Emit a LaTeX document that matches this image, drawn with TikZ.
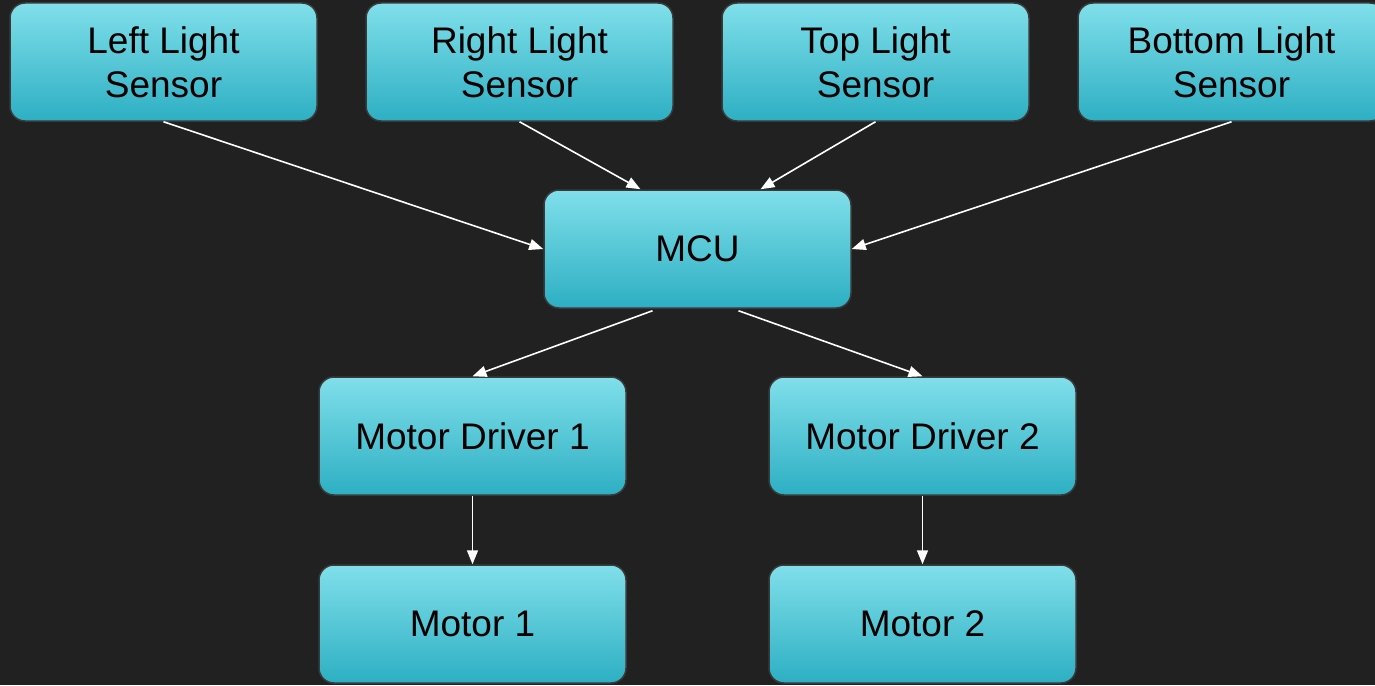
\documentclass[tikz,border=0pt]{standalone}
\usepackage{fontspec}
\setmainfont{Liberation Sans}
\usetikzlibrary{arrows.meta}
\definecolor{bg}{HTML}{212121}
\definecolor{topc}{HTML}{80DFEA}
\definecolor{botc}{HTML}{2DAFC3}
\definecolor{edgec}{HTML}{3A3A3A}
\begin{document}
\begin{tikzpicture}[x=1pt,y=1pt,
  box/.style={rounded corners=15pt, top color=topc, bottom color=botc, draw=edgec,
    line width=1.5pt, minimum width=307pt, minimum height=118pt, align=center,
    font=\fontsize{37}{44}\selectfont, text=black, inner sep=0pt},
  conn/.style={draw=white, line width=1.6pt, -{Triangle[length=14pt,width=11pt]}}]
\fill[bg] (0,0) rectangle (1375,-685);
\useasboundingbox (0,0) rectangle (1375,-685);
\clip (0,0) rectangle (1375,-685);
\node[box] (ls) at (163.5,-62) {Left Light\\Sensor};
\node[box] (rs) at (519.5,-62) {Right Light\\Sensor};
\node[box] (ts) at (875.5,-62) {Top Light\\Sensor};
\node[box] (bs) at (1231.5,-62) {Bottom Light\\Sensor};
\node[box] (mcu) at (697.5,-249) {MCU};
\node[box] (md1) at (472.5,-436) {Motor Driver 1};
\node[box] (md2) at (922.5,-436) {Motor Driver 2};
\node[box] (m1) at (472.5,-624) {Motor 1};
\node[box] (m2) at (922.5,-624) {Motor 2};
\draw[conn] (ls.south) -- (mcu.west);
\draw[conn] (rs.south) -- ([xshift=-57pt]mcu.north);
\draw[conn] (ts.south) -- ([xshift=63pt]mcu.north);
\draw[conn] (bs.south) -- (mcu.east);
\draw[conn] ([xshift=-45pt,yshift=-2pt]mcu.south) -- (md1.north);
\draw[conn] ([xshift=41pt,yshift=-2pt]mcu.south) -- (md2.north);
\draw[conn] (md1.south) -- (m1.north);
\draw[conn] (md2.south) -- (m2.north);
\end{tikzpicture}
\end{document}
